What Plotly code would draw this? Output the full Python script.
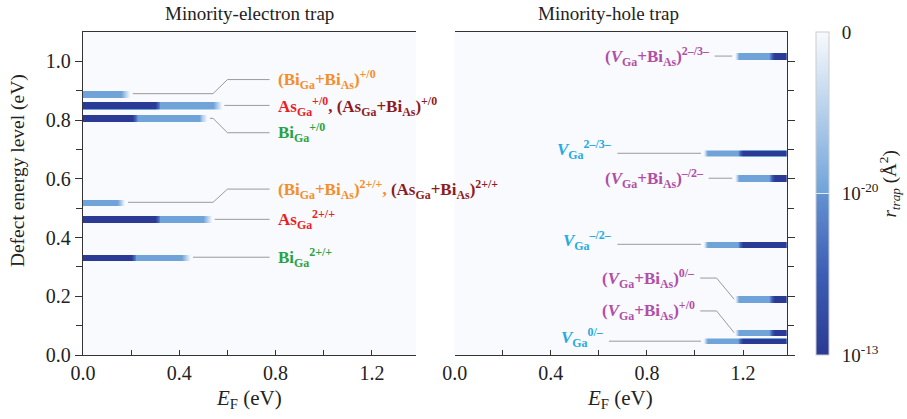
import numpy as np
import plotly.graph_objects as go

# ---------------- data ----------------
EF_MAX = 1.383
E_MAX = 1.1

# minority-electron traps (left panel)
left_names = ["(BiGa+BiAs)+/0", "AsGa+/0 , (AsGa+BiAs)+/0", "BiGa+/0",
              "(BiGa+BiAs)2+/+ , (AsGa+BiAs)2+/+", "AsGa2+/+", "BiGa2+/+"]
left_levels = [0.890, 0.850, 0.806, 0.520, 0.462, 0.333]
left_dark_end = [0.00, 0.30, 0.205, 0.00, 0.30, 0.20]
left_light_end = [0.16, 0.54, 0.48, 0.14, 0.50, 0.41]

# minority-hole traps (right panel)
right_names = ["(VGa+BiAs)2-/3-", "VGa2-/3-", "(VGa+BiAs)-/2-", "VGa-/2-",
               "(VGa+BiAs)0/-", "(VGa+BiAs)+/0", "VGa0/-"]
right_levels = [1.018, 0.687, 0.602, 0.377, 0.190, 0.076, 0.047]
right_light_start = [1.18, 1.05, 1.18, 1.05, 1.18, 1.18, 1.05]
right_dark_start = [1.32, 1.19, 1.32, 1.19, 1.32, 1.32, 1.19]

# colour-bar tick labels (value index 0 = darkest)
cbar_vals = [0, 0.5, 1]
cbar_text = ["10<sup>-13</sup>", "10<sup>-20</sup>", "0"]

# ---------------- styling ----------------
FONT = "Liberation Serif, Times New Roman, serif"
DARK, LIGHT, BG = 0.0, 0.505, 1.0
HALF_T = 0.0105
FADE = 0.035
TRANS = 0.02

ORANGE = "#f58d2b"
RED = "#ec1c24"
DRED = "#8e1b1f"
GREEN = "#27a344"
MAG = "#b14ea8"
CYAN = "#27aae1"
LEAD = "#9a9a9a"

x = np.arange(0, EF_MAX + 0.004, 0.004)
y = np.arange(0, E_MAX + 0.004, 0.004)


def build_left():
    z = np.full((len(y), len(x)), BG)
    for lev, de, le in zip(left_levels, left_dark_end, left_light_end):
        if de > 0:
            xs = [0, de, de + TRANS, le, le + FADE]
            vs = [DARK, DARK, LIGHT, LIGHT, BG]
        else:
            xs = [0, le, le + FADE]
            vs = [LIGHT, LIGHT, BG]
        row = np.interp(x, xs, vs)
        mask = np.abs(y - lev) <= HALF_T
        z[mask] = np.minimum(z[mask], row)
    return np.round(z, 3)


def build_right():
    z = np.full((len(y), len(x)), BG)
    for lev, ls, ds in zip(right_levels, right_light_start, right_dark_start):
        xs = [ls - 0.015, ls, ds - TRANS / 2, ds + TRANS / 2, EF_MAX + 0.01]
        vs = [BG, LIGHT, LIGHT, DARK, DARK]
        row = np.interp(x, xs, vs)
        mask = np.abs(y - lev) <= HALF_T
        z[mask] = np.minimum(z[mask], row)
    return np.round(z, 3)


colorscale = [[0.0, "#2b3a94"], [0.25, "#3d5db5"], [0.5, "#6492d2"],
              [0.5, "#6fa3d9"], [0.75, "#b5cfec"], [1.0, "#f8fafd"]]

PAD = "\u00a0\u2006"

fig = go.Figure()
fig.add_trace(go.Heatmap(
    x=x, y=y, z=build_left(), xaxis="x", yaxis="y",
    colorscale=colorscale, zmin=0, zmax=1, zsmooth="best",
    showscale=False, hoverinfo="skip"))
fig.add_trace(go.Heatmap(
    x=x, y=y, z=build_right(), xaxis="x2", yaxis="y2",
    colorscale=colorscale, zmin=0, zmax=1, zsmooth="best",
    hoverinfo="skip",
    colorbar=dict(x=1.0412, xanchor="left", xpad=0, y=0.5, yanchor="middle",
                  len=1, ypad=0, thickness=13, outlinewidth=1,
                  outlinecolor="#cccccc",
                  tickvals=cbar_vals, ticktext=[PAD + t for t in cbar_text],
                  ticks="inside", ticklen=13, tickcolor="rgba(255,255,255,0.8)",
                  tickfont=dict(family=FONT, size=19, color="#222"))))

axis_common = dict(showgrid=False, zeroline=False, showline=True,
                   linecolor="#333", linewidth=1.3,
                   tickfont=dict(family=FONT, size=20, color="#222"))

fig.update_layout(
    width=907, height=419,
    margin=dict(l=83, r=120, t=32, b=64),
    paper_bgcolor="white", plot_bgcolor="#f8fafd",
    showlegend=False,
    xaxis=dict(domain=[0, 0.473], range=[0, EF_MAX], mirror=True,
               tickvals=[0, 0.4, 0.8, 1.2], ticktext=["0.0", "0.4", "0.8", "1.2"],
               ticks="inside", ticklen=5, tickcolor="#333",
               minor=dict(tickvals=[0.2, 0.6, 1.0], ticks="inside", ticklen=5,
                          tickcolor="#333"),
               anchor="y", **axis_common),
    yaxis=dict(domain=[0, 1], range=[0, E_MAX], anchor="x",
               tickvals=[0, 0.2, 0.4, 0.6, 0.8, 1.0],
               ticktext=["0.0", "0.2", "0.4", "0.6", "0.8", "1.0"],
               ticks="outside", ticklen=7, tickcolor="#333",
               minor=dict(tickvals=[0.1, 0.3, 0.5, 0.7, 0.9], ticks="outside",
                          ticklen=6, tickcolor="#333"),
               **axis_common),
    xaxis2=dict(domain=[0.528, 1], range=[0, EF_MAX], mirror=True,
                tickvals=[0, 0.4, 0.8, 1.2], ticktext=["0.0", "0.4", "0.8", "1.2"],
                ticks="inside", ticklen=5, tickcolor="#333",
                minor=dict(tickvals=[0.2, 0.6, 1.0], ticks="inside", ticklen=5,
                           tickcolor="#333"),
                anchor="y2", **axis_common),
    yaxis2=dict(domain=[0, 1], range=[0, E_MAX], anchor="x2", side="right",
                tickvals=[0, 0.2, 0.4, 0.6, 0.8, 1.0], showticklabels=False,
                ticks="outside", ticklen=7, tickcolor="#333",
                minor=dict(tickvals=[0.1, 0.3, 0.5, 0.7, 0.9], ticks="outside",
                           ticklen=6, tickcolor="#333"),
                **axis_common),
)

ann = []
# panel titles and axis titles
ann.append(dict(text="Minority-electron trap", x=0.69, y=1.056, xref="x", yref="paper",
                xanchor="center", yanchor="middle",
                showarrow=False, font=dict(family=FONT, size=19, color="#222")))
ann.append(dict(text="Minority-hole trap", x=0.64, y=1.056, xref="x2", yref="paper",
                xanchor="center", yanchor="middle",
                showarrow=False, font=dict(family=FONT, size=19, color="#222")))
for xr in ["x", "x2"]:
    ann.append(dict(text="<i>E</i><sub>F</sub> (eV)", x=0.69, y=-0.135, xref=xr,
                    yref="paper", xanchor="center", yanchor="middle", showarrow=False,
                    font=dict(family=FONT, size=21, color="#222")))
ann.append(dict(text="Defect energy level (eV)", x=-0.092, y=0.57, xref="paper",
                yref="paper", textangle=-90, xanchor="center", yanchor="middle",
                showarrow=False, font=dict(family=FONT, size=19.5, color="#222")))
ann.append(dict(text="<i>r</i><sub><i>trap</i></sub> (Å<sup>2</sup>)", x=1.146, y=0.53,
                xref="paper", yref="paper", textangle=-90, xanchor="center",
                yanchor="middle", showarrow=False,
                font=dict(family=FONT, size=19, color="#222")))


def span(c, t):
    return '<span style="color:%s">%s</span>' % (c, t)


left_labels = [
    span(ORANGE, "(Bi<sub>Ga</sub>+Bi<sub>As</sub>)<sup>+/0</sup>"),
    span(RED, "As<sub>Ga</sub><sup>+/0</sup>") + span(DRED, ", (As<sub>Ga</sub>+Bi<sub>As</sub>)<sup>+/0</sup>"),
    span(GREEN, "Bi<sub>Ga</sub><sup>+/0</sup>"),
    span(ORANGE, "(Bi<sub>Ga</sub>+Bi<sub>As</sub>)<sup>2+/+</sup>, ") + span(DRED, "(As<sub>Ga</sub>+Bi<sub>As</sub>)<sup>2+/+</sup>"),
    span(RED, "As<sub>Ga</sub><sup>2+/+</sup>"),
    span(GREEN, "Bi<sub>Ga</sub><sup>2+/+</sup>"),
]
left_label_y = [0.938, 0.848, 0.757, 0.565, 0.462, 0.333]

right_labels = [
    span(MAG, "(<i>V</i><sub>Ga</sub>+Bi<sub>As</sub>)<sup>2–/3–</sup>"),
    span(CYAN, "<i>V</i><sub>Ga</sub><sup>2–/3–</sup>"),
    span(MAG, "(<i>V</i><sub>Ga</sub>+Bi<sub>As</sub>)<sup>–/2–</sup>"),
    span(CYAN, "<i>V</i><sub>Ga</sub><sup>–/2–</sup>"),
    span(MAG, "(<i>V</i><sub>Ga</sub>+Bi<sub>As</sub>)<sup>0/–</sup>"),
    span(MAG, "(<i>V</i><sub>Ga</sub>+Bi<sub>As</sub>)<sup>+/0</sup>"),
    span(CYAN, "<i>V</i><sub>Ga</sub><sup>0/–</sup>"),
]
right_label_y = [1.018, 0.700, 0.602, 0.390, 0.262, 0.150, 0.060]
right_label_x = [1.07, 0.665, 1.045, 0.665, 1.01, 1.01, 0.63]

for t, ly in zip(left_labels, left_label_y):
    ann.append(dict(text="<b>" + t + "</b>", x=0.8, y=ly, xref="x", yref="y",
                    xanchor="left", yanchor="middle", showarrow=False,
                    font=dict(family=FONT, size=17)))
for t, ly, lx in zip(right_labels, right_label_y, right_label_x):
    ann.append(dict(text="<b>" + t + "</b>", x=lx, y=ly, xref="x2", yref="y2",
                    xanchor="right", yanchor="middle", showarrow=False,
                    font=dict(family=FONT, size=17)))
fig.update_layout(annotations=ann)

# leader lines
shapes = []
for lev, le, ly in zip(left_levels, left_light_end, left_label_y):
    x0 = le + FADE + 0.012
    if abs(ly - lev) > 0.02:
        pts = [(x0, lev), (0.54, lev), (0.60, ly), (0.775, ly)]
    else:
        pts = [(x0, lev), (0.775, lev)]
    path = "M " + " L ".join("%.4f,%.4f" % p for p in pts)
    shapes.append(dict(type="path", path=path, xref="x", yref="y",
                       line=dict(color=LEAD, width=1)))
for lev, ls, ly, lx in zip(right_levels, right_light_start, right_label_y, right_label_x):
    x1 = ls - 0.025
    x0 = lx + 0.012
    if abs(ly - lev) > 0.02:
        pts = [(x0, ly), (1.09, ly), (1.163, lev)]
    else:
        pts = [(x0, lev), (x1, lev)]
    path = "M " + " L ".join("%.4f,%.4f" % p for p in pts)
    shapes.append(dict(type="path", path=path, xref="x2", yref="y2",
                       line=dict(color=LEAD, width=1)))
fig.update_layout(shapes=shapes)

fig.write_html("out.html")
